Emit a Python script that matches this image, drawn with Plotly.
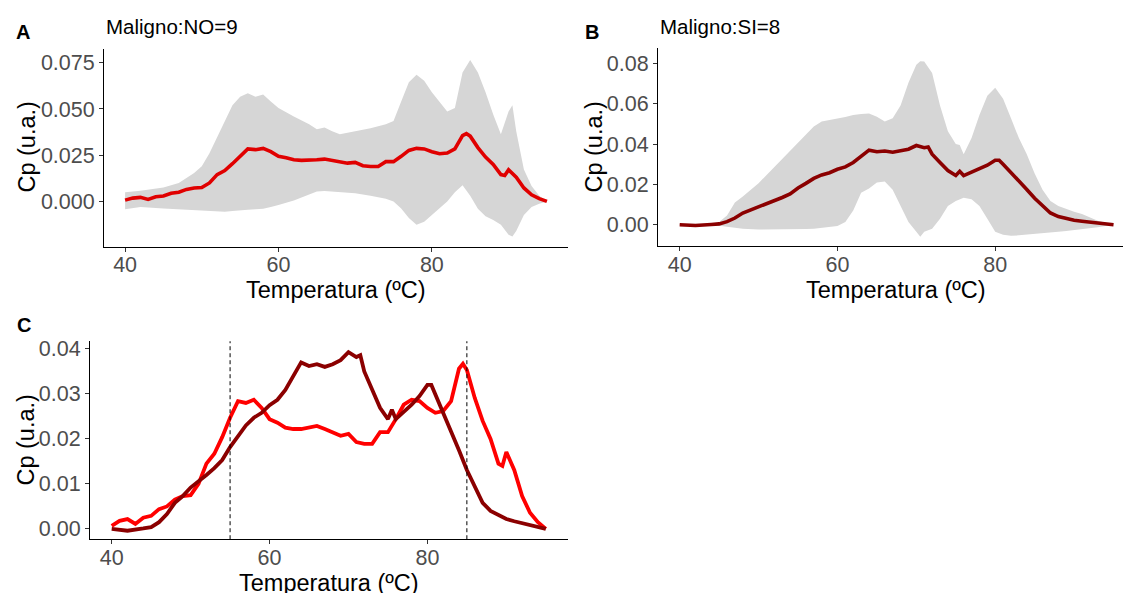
import plotly.graph_objects as go

W, H = 1123, 593

# ---------------- data ----------------
# Panel A / C red curve: mean Cp, Maligno:NO (n=9)
temp_no = [40, 41, 42, 43, 44, 45, 46, 47, 48, 49, 50, 51, 52, 53, 54, 55, 56, 57, 58, 59,
           60, 61, 62, 63, 64, 65, 66, 67, 68, 69, 70, 71, 72, 73, 74, 75, 76, 77, 78, 79,
           80, 81, 82, 83, 84, 84.5, 85, 86, 87, 88, 89, 89.5, 90, 91, 92, 93, 94, 95]
cp_no = [0.0007, 0.0018, 0.0022, 0.0011, 0.0025, 0.0029, 0.0044, 0.0050, 0.0065, 0.0073,
         0.0075, 0.0100, 0.0145, 0.0167, 0.0204, 0.0247, 0.0284, 0.0280, 0.0287, 0.0269,
         0.0244, 0.0236, 0.0225, 0.0222, 0.0222, 0.0225, 0.0229, 0.0222, 0.0215, 0.0207,
         0.0211, 0.0193, 0.0189, 0.0189, 0.0215, 0.0215, 0.0244, 0.0276, 0.0287, 0.0284,
         0.0269, 0.0258, 0.0262, 0.0284, 0.0356, 0.0367, 0.0353, 0.0291, 0.0240, 0.0200,
         0.0145, 0.0140, 0.0171, 0.0131, 0.0073, 0.0036, 0.0015, 0.0000]

# Panel A ribbon (grey band)
temp_band_no = [40, 42, 45, 47, 49, 50, 51, 52, 53, 54, 55, 56, 57, 58, 59, 60, 62, 64, 65,
                66, 67, 68, 70, 72, 74, 75, 76, 77, 78, 79, 80, 81, 82, 83, 84, 85, 86, 87,
                88, 89, 90, 90.5, 91, 92, 93, 94, 95]
upper_no = [0.0050, 0.0058, 0.0075, 0.0100, 0.0154, 0.0190, 0.0260, 0.0347, 0.0435, 0.0520,
            0.0566, 0.0585, 0.0566, 0.0578, 0.0540, 0.0505, 0.0460, 0.0417, 0.0390, 0.0400,
            0.0380, 0.0364, 0.0380, 0.0396, 0.0417, 0.0435, 0.0540, 0.0645, 0.0685, 0.0653,
            0.0590, 0.0540, 0.0487, 0.0505, 0.0697, 0.0765, 0.0697, 0.0590, 0.0470, 0.0364,
            0.0487, 0.0520, 0.0380, 0.0172, 0.0084, 0.0030, 0.0000]
lower_no = [-0.0042, -0.0030, -0.0039, -0.0044, -0.0047, -0.0050, -0.0053, -0.0055, -0.0056,
            -0.0052, -0.0047, -0.0045, -0.0042, -0.0040, -0.0030, -0.0020, 0.0005, 0.0040,
            0.0054, 0.0056, 0.0053, 0.0050, 0.0044, 0.0030, 0.0014, 0.0000, -0.0039, -0.0090,
            -0.0126, -0.0110, -0.0074, -0.0040, 0.0000, 0.0050, 0.0088, 0.0030, -0.0040,
            -0.0080, -0.0100, -0.0126, -0.0180, -0.0190, -0.0160, -0.0074, -0.0030, -0.0012,
            0.0000]

# Panel B / C dark red curve: mean Cp, Maligno:SI (n=8)
temp_si = [40, 42, 44, 45, 46, 47, 48, 49, 50, 51, 52, 53, 54, 55, 56, 57, 58, 59, 60, 61,
           62, 63, 64, 65, 66, 67, 68, 69, 70, 71, 71.5, 72, 73, 74, 75, 75.5, 76, 77, 78,
           79, 80, 80.5, 81, 82, 83, 84, 85, 86, 87, 88, 89, 90, 91, 92, 93, 94, 95]
cp_si = [0.0000, -0.0004, 0.0001, 0.0004, 0.0015, 0.0033, 0.0058, 0.0073, 0.0092, 0.0105,
         0.0120, 0.0135, 0.0153, 0.0182, 0.0205, 0.0230, 0.0247, 0.0258, 0.0275, 0.0287,
         0.0309, 0.0338, 0.0370, 0.0362, 0.0366, 0.0360, 0.0366, 0.0375, 0.0393, 0.0382,
         0.0386, 0.0350, 0.0309, 0.0269, 0.0244, 0.0265, 0.0244, 0.0260, 0.0276, 0.0295,
         0.0320, 0.0320, 0.0300, 0.0260, 0.0215, 0.0175, 0.0131, 0.0095, 0.0058, 0.0040,
         0.0030, 0.0022, 0.0017, 0.0013, 0.0007, 0.0004, 0.0000]

# Panel B ribbon (grey band)
temp_band_si = [40, 44, 45, 46, 47, 48, 50, 52, 54, 56, 57, 58, 60, 61, 62, 63, 64, 65, 66,
                67, 68, 69, 70, 70.5, 71, 72, 73, 74, 75, 75.5, 76, 77, 78, 79, 80, 81, 82,
                83, 84, 85, 86, 87, 88, 89, 90, 91, 92, 93, 94, 95]
upper_si = [0.0003, 0.0004, 0.0013, 0.0045, 0.0110, 0.0140, 0.0206, 0.0287, 0.0367, 0.0448,
            0.0488, 0.0512, 0.0525, 0.0535, 0.0544, 0.0550, 0.0552, 0.0536, 0.0512, 0.0528,
            0.0592, 0.0705, 0.0794, 0.0812, 0.0810, 0.0753, 0.0592, 0.0464, 0.0400, 0.0395,
            0.0350, 0.0430, 0.0544, 0.0640, 0.0680, 0.0625, 0.0528, 0.0430, 0.0350, 0.0254,
            0.0174, 0.0118, 0.0093, 0.0077, 0.0064, 0.0053, 0.0037, 0.0020, 0.0010, 0.0000]
lower_si = [-0.0003, -0.0003, -0.0005, -0.0010, -0.0015, -0.0020, -0.0024, -0.0024, -0.0022,
            -0.0022, -0.0020, -0.0016, -0.0006, 0.0013, 0.0070, 0.0158, 0.0180, 0.0210,
            0.0214, 0.0174, 0.0093, 0.0013, -0.0035, -0.0060, -0.0035, -0.0020, 0.0030,
            0.0093, 0.0118, 0.0125, 0.0134, 0.0126, 0.0093, 0.0030, -0.0035, -0.0050,
            -0.0055, -0.0053, -0.0050, -0.0046, -0.0043, -0.0039, -0.0035, -0.0031, -0.0027,
            -0.0024, -0.0020, -0.0013, -0.0006, 0.0000]

vlines_c = [55, 85]
x_ticks = [40, 60, 80]
y_ticks_a = [0, 0.025, 0.05, 0.075]
y_ticks_b = [0, 0.02, 0.04, 0.06, 0.08]
y_ticks_c = [0, 0.01, 0.02, 0.03, 0.04]

title_a = "Maligno:NO=9"
title_b = "Maligno:SI=8"
x_title = "Temperatura (ºC)"
y_title = "Cp (u.a.)"

# ---------------- styling ----------------
FONT = "Liberation Sans, Arial, sans-serif"
BAND = "#D6D6D6"
RED_A = "#E00000"
RED = "#FF0000"
DARKRED = "#8B0000"


def px(x):
    return x / W


def py(y):
    return 1 - y / H


fig = go.Figure()

# Panel A
fig.add_trace(go.Scatter(x=temp_band_no, y=lower_no, mode="lines", line=dict(width=0),
                         hoverinfo="skip", xaxis="x", yaxis="y"))
fig.add_trace(go.Scatter(x=temp_band_no, y=upper_no, mode="lines", line=dict(width=0),
                         fill="tonexty", fillcolor=BAND, hoverinfo="skip", xaxis="x", yaxis="y"))
fig.add_trace(go.Scatter(x=temp_no, y=cp_no, mode="lines", line=dict(color=RED_A, width=3.6),
                         xaxis="x", yaxis="y"))

# Panel B
fig.add_trace(go.Scatter(x=temp_band_si, y=lower_si, mode="lines", line=dict(width=0),
                         hoverinfo="skip", xaxis="x2", yaxis="y2"))
fig.add_trace(go.Scatter(x=temp_band_si, y=upper_si, mode="lines", line=dict(width=0),
                         fill="tonexty", fillcolor=BAND, hoverinfo="skip", xaxis="x2", yaxis="y2"))
fig.add_trace(go.Scatter(x=temp_si, y=cp_si, mode="lines", line=dict(color=DARKRED, width=3.6),
                         xaxis="x2", yaxis="y2"))

# Panel C
fig.add_trace(go.Scatter(x=temp_no, y=cp_no, mode="lines", line=dict(color=RED, width=3.8),
                         xaxis="x3", yaxis="y3"))
fig.add_trace(go.Scatter(x=temp_si, y=cp_si, mode="lines", line=dict(color=DARKRED, width=3.8),
                         xaxis="x3", yaxis="y3"))

for v in vlines_c:
    fig.add_shape(type="line", xref="x3", yref="y3 domain", x0=v, x1=v, y0=0, y1=1,
                  line=dict(color="black", width=1, dash="4px,3px"), layer="above")

axis_common = dict(showgrid=False, zeroline=False, showline=True, linecolor="black",
                   linewidth=1, ticks="outside", ticklen=4, tickwidth=1, tickcolor="#333333",
                   tickfont=dict(family=FONT, size=21.5, color="#4D4D4D"), fixedrange=True)
x_extra = dict(ticklabelstandoff=-5)

fig.update_layout(
    width=W, height=H,
    margin=dict(l=0, r=0, t=0, b=0),
    paper_bgcolor="white", plot_bgcolor="white",
    showlegend=False,
    font=dict(family=FONT),
    xaxis=dict(axis_common, **x_extra, domain=[px(104), px(568)], range=[37.25, 97.75],
               tickvals=x_ticks, anchor="y"),
    yaxis=dict(axis_common, domain=[py(245), py(45)], range=[-0.0244, 0.0827],
               tickvals=y_ticks_a, ticktext=["0.000", "0.025", "0.050", "0.075"], anchor="x"),
    xaxis2=dict(axis_common, **x_extra, domain=[px(658), 1.0], range=[37.25, 96.2],
                tickvals=x_ticks, anchor="y2"),
    yaxis2=dict(axis_common, domain=[py(244.5), py(44.5)], range=[-0.0106, 0.0877],
                tickvals=y_ticks_b, ticktext=["0.00", "0.02", "0.04", "0.06", "0.08"], anchor="x2"),
    xaxis3=dict(axis_common, **x_extra, domain=[px(90), px(567.5)], range=[37.25, 97.75],
                tickvals=x_ticks, anchor="y3"),
    yaxis3=dict(axis_common, domain=[py(540.7), py(340.7)], range=[-0.00229, 0.0417],
                tickvals=y_ticks_c, ticktext=["0.00", "0.01", "0.02", "0.03", "0.04"], anchor="x3"),
)

ann = []


def add_text(text, x, y, size, xanchor="center", yanchor="middle", angle=0, bold=False,
             color="black"):
    t = "<b>%s</b>" % text if bold else text
    ann.append(dict(text=t, x=px(x), y=py(y), xref="paper", yref="paper", showarrow=False,
                    xanchor=xanchor, yanchor=yanchor, textangle=angle,
                    font=dict(family=FONT, size=size, color=color)))


# panel tags
add_text("A", 22.5, 28, 20, bold=True)
add_text("B", 591.7, 28, 20, bold=True)
add_text("C", 23.8, 324, 20, bold=True)
# panel titles
add_text(title_a, 104, 23, 20.5, xanchor="left")
add_text(title_b, 658, 23, 20.5, xanchor="left")
# x titles
add_text(x_title, 336, 289, 23.5)
add_text(x_title, 896, 289, 23.5)
add_text(x_title, 329, 585, 23.5)
# y titles
add_text(y_title, 27, 145, 23.5, angle=-90)
add_text(y_title, 594, 145, 23.5, angle=-90)
add_text(y_title, 26, 441, 23.5, angle=-90)

fig.update_layout(annotations=ann)

fig.write_html("out.html")
